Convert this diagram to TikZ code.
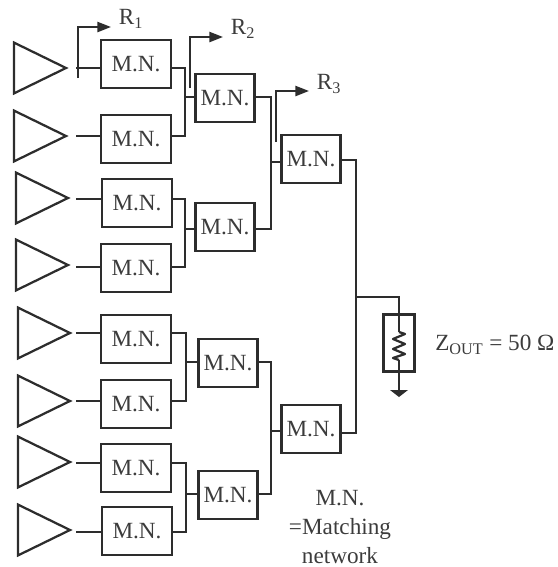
\documentclass[tikz,border=0pt]{standalone}
\usepackage{fontspec}
\setmainfont{Liberation Serif}
\usetikzlibrary{shapes.geometric, arrows.meta, positioning, calc}
\definecolor{wiregray}{RGB}{45, 45, 45}
\definecolor{textgray}{RGB}{60, 60, 60}
\tikzset{
  wire/.style={line width=1.6pt, wiregray},
  sensearrow/.style={-{Stealth[length=3.4mm, width=2.5mm, inset=0pt]}, line width=1.6pt, wiregray}
}
\begin{document}
\begin{tikzpicture}[
    x=0.025cm, y=-0.025cm,
    pabox/.style={isosceles triangle, isosceles triangle stretches, shape border rotate=0, draw=wiregray, line width=1.6pt, inner sep=0pt, outer sep=0pt, minimum width=1.27cm, minimum height=1.3cm, anchor=apex},
    mnbox/.style={rectangle, draw=wiregray, line width=1.6pt, fill=white, inner sep=0pt, outer sep=0pt, text=textgray, font=\fontsize{16.5}{20}\selectfont, minimum width=1.75cm, minimum height=1.2cm},
    mnsmall/.style={mnbox, minimum width=1.475cm},
    lbl/.style={text=textgray, font=\fontsize{16.5}{20}\selectfont, inner sep=0pt, align=center}
]
    \useasboundingbox (0,0) rectangle (558,567);

    % Amplifiers, apex given
    \node[pabox] (pa1) at (66, 68) {};
    \node[pabox] (pa2) at (66, 136) {};
    \node[pabox] (pa3) at (68, 198) {};
    \node[pabox] (pa4) at (68, 265) {};
    \node[pabox] (pa5) at (70, 333) {};
    \node[pabox] (pa6) at (70, 401) {};
    \node[pabox] (pa7) at (70, 462) {};
    \node[pabox] (pa8) at (70, 530) {};

    % First column of matching networks
    \node[mnbox] (m1) at (136, 64) {M.N.};
    \node[mnbox] (m2) at (136, 139) {M.N.};
    \node[mnbox] (m3) at (137, 203) {M.N.};
    \node[mnbox] (m4) at (136, 268) {M.N.};
    \node[mnbox] (m5) at (136, 339) {M.N.};
    \node[mnbox] (m6) at (136, 404) {M.N.};
    \node[mnbox] (m7) at (136, 468) {M.N.};
    \node[mnbox] (m8) at (137, 531) {M.N.};

    % Second column
    \node[mnsmall] (n1) at (225, 98) {M.N.};
    \node[mnsmall] (n2) at (225, 227) {M.N.};
    \node[mnsmall] (n3) at (228, 363) {M.N.};
    \node[mnsmall] (n4) at (228, 495) {M.N.};

    % Third column
    \node[mnsmall] (p1) at (311, 159) {M.N.};
    \node[mnsmall] (p2) at (311, 429) {M.N.};

    % Load resistor box
    \node[rectangle, draw=wiregray, line width=1.6pt, inner sep=0pt, minimum width=0.78cm, minimum height=1.42cm] (load) at (399, 343) {};

    % Wire starts next to the amplifiers
    \coordinate (w1) at (76, 68);
    \coordinate (w2) at (76, 136);
    \coordinate (w3) at (76, 199);
    \coordinate (w4) at (76, 267);
    \coordinate (w5) at (76, 333);
    \coordinate (w6) at (76, 401);
    \coordinate (w7) at (76, 463);
    \coordinate (w8) at (76, 532);
    \draw[wire] (w1) -- (m1.west |- w1);
    \draw[wire] (w2) -- (m2.west |- w2);
    \draw[wire] (w3) -- (m3.west |- w3);
    \draw[wire] (w4) -- (m4.west |- w4);
    \draw[wire] (w5) -- (m5.west |- w5);
    \draw[wire] (w6) -- (m6.west |- w6);
    \draw[wire] (w7) -- (m7.west |- w7);
    \draw[wire] (w8) -- (m8.west |- w8);

    % Combiners into second column
    \coordinate (c1) at (185, 97);
    \coordinate (c2) at (185, 229);
    \coordinate (c3) at (186, 362);
    \coordinate (c4) at (186, 494);
    \draw[wire] (m1.east |- w1) -| (c1) |- (m2.east |- w2);
    \draw[wire] (m3.east |- w3) -| (c2) |- (m4.east |- w4);
    \draw[wire] (m5.east |- w5) -| (c3) |- (m6.east |- w6);
    \draw[wire] (m7.east |- w7) -| (c4) |- (m8.east |- w8);
    \draw[wire] (c1) -- (n1.west |- c1);
    \draw[wire] (c2) -- (n2.west |- c2);
    \draw[wire] (c3) -- (n3.west |- c3);
    \draw[wire] (c4) -- (n4.west |- c4);

    % Combiners into third column
    \coordinate (d1) at (271, 162);
    \coordinate (d2) at (271, 431);
    \draw[wire] (n1.east |- c1) -| (d1) |- (n2.east |- c2);
    \draw[wire] (n3.east |- c3) -| (d2) |- (n4.east |- c4);
    \draw[wire] (d1) -- (p1.west |- d1);
    \draw[wire] (d2) -- (p2.west |- d2);

    % Output and load
    \coordinate (e1) at (356, 160);
    \coordinate (e2) at (356, 433);
    \coordinate (tap) at (356, 297);
    \coordinate (rtop) at (399, 332);
    \coordinate (rbot) at (399, 360);
    \coordinate (gnd) at (399, 390);
    \draw[wire] (p1.east |- e1) -- (e1) -- (e2) -- (p2.east |- e2);
    \draw[wire] (tap) -| (rtop);
    \draw[wire, line join=round] (rtop) -- ++(6,2) -- ++(-12,5) -- ++(12,5) -- ++(-12,5) -- ++(12,5) -- ++(-12,4) -- (rbot);
    \draw[wire] (rbot) -- (gnd);
    \fill[wiregray] ($(gnd)+(-9,0)$) -- ++(18,0) -- ++(-9,7) -- cycle;

    % Sense outputs
    \coordinate (r1a) at (78, 78);
    \coordinate (r1b) at (111, 27);
    \coordinate (r2a) at (190, 88);
    \coordinate (r2b) at (223, 37);
    \coordinate (r3a) at (276, 142);
    \coordinate (r3b) at (309, 91);
    \draw[sensearrow] (r1a) |- (r1b);
    \draw[sensearrow] (r2a) |- (r2b);
    \draw[sensearrow] (r3a) |- (r3b);

    % Labels
    \node[lbl] (lr1) at (131, 19) {R\textsubscript{1}};
    \node[lbl] (lr2) at (243, 29) {R\textsubscript{2}};
    \node[lbl] (lr3) at (329, 84) {R\textsubscript{3}};
    \node[lbl, anchor=west] (lz) at (435, 345) {Z\textsubscript{OUT} = 50 Ω};
    \node[lbl, font=\fontsize{16.5}{20.4}\selectfont] (note) at (340, 527) {M.N.\\=Matching\\network};
\end{tikzpicture}
\end{document}
